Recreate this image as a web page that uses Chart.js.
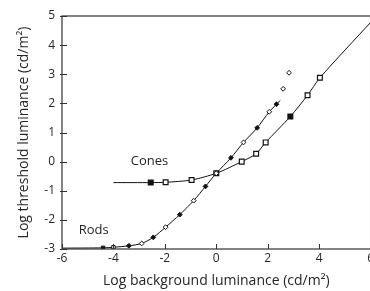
<!DOCTYPE html>
<html>
<head>
<meta charset="utf-8">
<script src="https://cdn.jsdelivr.net/npm/chart.js@4/dist/chart.umd.min.js"></script>
<style>
html,body{margin:0;padding:0;background:#fff;overflow:hidden;width:370px;height:291px;}
#wrap{width:376px;height:291px;}
</style>
</head>
<body>
<div id="wrap"><canvas id="c" width="376" height="291"></canvas></div>
<script>
// Rod curve (first point is the start of the line, without marker)
const rodsX = [-6, -4.4, -4.0, -3.4, -2.9, -2.45, -1.97, -1.42, -0.88, -0.42, 0.0, 0.57, 1.06, 1.59, 2.06, 2.34, 2.49];
const rodsY = [-2.97, -2.96, -2.94, -2.89, -2.81, -2.6, -2.25, -1.82, -1.34, -0.85, -0.4, 0.13, 0.66, 1.16, 1.71, 1.97, 2.1];
// Rod points above saturation (no line)
const rodsSatX = [2.6, 2.83];
const rodsSatY = [2.5, 3.05];
// Cone curve (first and last are line ends, without marker)
const conesX = [-4.0, -2.55, -1.97, -0.96, 0.0, 0.99, 1.55, 1.92, 2.88, 3.55, 4.03, 6.0];
const conesY = [-0.72, -0.72, -0.71, -0.63, -0.4, 0.0, 0.27, 0.66, 1.55, 2.28, 2.88, 4.78];
// Axis ticks
const xTicks = [-6, -4, -2, 0, 2, 4, 6];
const yTicks = [-3, -2, -1, 0, 1, 2, 3, 4, 5];
// Curve labels
const labelText = ['Cones', 'Rods'];
const labelX = [-2.6, -4.77];
const labelY = [0.0, -2.37];

const pts = (xs, ys) => xs.map((x, i) => ({x, y: ys[i]}));
const FONT = "'Open Sans', 'DejaVu Sans', sans-serif";
const TXT = '#262626';

const innerTicks = {
  id: 'innerTicks',
  afterDraw(chart) {
    const {ctx, chartArea: a, scales: {x, y}} = chart;
    ctx.save();
    ctx.strokeStyle = '#333';
    ctx.lineWidth = 1.2;
    ctx.strokeRect(a.left, a.top, a.right - a.left, a.bottom - a.top);
    ctx.lineWidth = 1;
    xTicks.forEach(v => {
      const px = Math.round(x.getPixelForValue(v)) + 0.5;
      ctx.beginPath(); ctx.moveTo(px, a.bottom); ctx.lineTo(px, a.bottom - 5); ctx.stroke();
    });
    yTicks.forEach(v => {
      const py = Math.round(y.getPixelForValue(v)) + 0.5;
      ctx.beginPath(); ctx.moveTo(a.left - 2, py); ctx.lineTo(a.left + 5, py); ctx.stroke();
    });
    ctx.fillStyle = TXT;
    ctx.font = "13px " + FONT;
    ctx.textAlign = 'center';
    ctx.textBaseline = 'middle';
    labelText.forEach((t, i) => {
      ctx.fillText(t, x.getPixelForValue(labelX[i]), y.getPixelForValue(labelY[i]));
    });
    ctx.restore();
  }
};

new Chart(document.getElementById('c'), {
  type: 'scatter',
  data: {
    datasets: [
      {
        data: pts(rodsX, rodsY),
        showLine: true,
        tension: 0.25,
        borderColor: '#111',
        borderWidth: 1,
        pointStyle: ctx => ctx.dataIndex <= 2 ? 'rect' : 'rectRot',
        pointRadius: ctx => ctx.dataIndex === 0 || ctx.dataIndex === rodsX.length - 1 ? 0 : 2.4,
        pointBackgroundColor: ctx => ctx.dataIndex % 2 === 0 ? '#fff' : '#111',
        pointBorderColor: '#111',
        pointBorderWidth: 1
      },
      {
        data: pts(rodsSatX, rodsSatY),
        showLine: false,
        pointStyle: 'rectRot',
        pointRadius: 2.4,
        pointBackgroundColor: '#fff',
        pointBorderColor: '#111',
        pointBorderWidth: 1
      },
      {
        data: pts(conesX, conesY),
        showLine: true,
        tension: 0.25,
        borderColor: '#111',
        borderWidth: 1,
        pointStyle: 'rect',
        pointRadius: ctx => ctx.dataIndex === 0 || ctx.dataIndex === conesX.length - 1 ? 0 : 3.4,
        pointBackgroundColor: ctx => (ctx.dataIndex === 1 || ctx.dataIndex === 8) ? '#111' : '#fff',
        pointBorderColor: '#111',
        pointBorderWidth: 1.2
      }
    ]
  },
  options: {
    responsive: false,
    animation: false,
    events: [],
    layout: {autoPadding: false, padding: {left: 0, top: 16, right: 2, bottom: 0}},
    plugins: {legend: {display: false}, tooltip: {enabled: false}},
    scales: {
      x: {
        type: 'linear', min: -6, max: 6,
        afterBuildTicks: s => { s.ticks = xTicks.map(v => ({value: v})); },
        afterFit: s => { s.height = 42; },
        grid: {display: false, drawTicks: false},
        border: {display: false},
        ticks: {padding: 2, color: TXT, font: {family: FONT, size: 12}, maxRotation: 0, autoSkip: false},
        title: {display: true, text: 'Log background luminance (cd/m²)', color: TXT, font: {family: FONT, size: 14}, padding: {top: 0, bottom: 2}}
      },
      y: {
        type: 'linear', min: -3, max: 5,
        afterBuildTicks: s => { s.ticks = yTicks.map(v => ({value: v})); },
        afterFit: s => { s.width = 62; },
        grid: {display: false, drawTicks: false},
        border: {display: false},
        ticks: {padding: 7, color: TXT, font: {family: FONT, size: 12}, autoSkip: false},
        title: {display: true, text: 'Log threshold luminance (cd/m²)', color: TXT, font: {family: FONT, size: 14}, padding: {top: 16, bottom: 0}}
      }
    }
  },
  plugins: [innerTicks]
});
</script>
</body>
</html>
